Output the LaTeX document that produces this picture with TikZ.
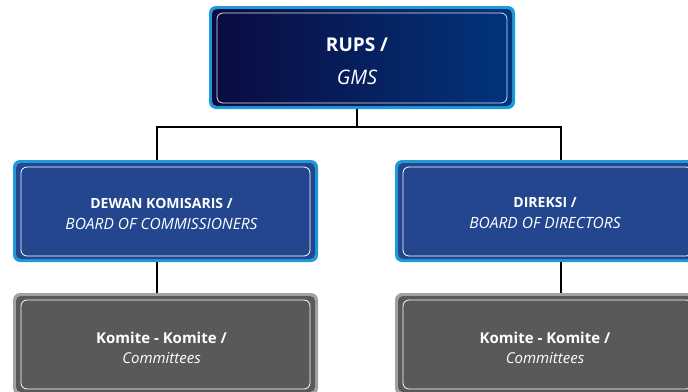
\documentclass[tikz,border=0pt]{standalone}
\usepackage{fontspec}
\setmainfont{Open Sans}
\usepackage{xcolor}
\usetikzlibrary{calc}

\definecolor{ringblue}{HTML}{1D9BD9}
\definecolor{navyL}{HTML}{0B0A40}
\definecolor{navyR}{HTML}{02357C}
\definecolor{midblue}{HTML}{24468F}
\definecolor{ringgrey}{HTML}{A2A2A2}
\definecolor{darkgrey}{HTML}{59595B}

\begin{document}
\begin{tikzpicture}[x=1pt, y=-1pt,
    orgbox/.style={minimum width=305pt, minimum height=102pt, inner sep=0pt, outer sep=0pt,
      rounded corners=7pt},
    ring/.style={fill=#1},
    inner/.style={path picture={
      \fill[#1, rounded corners=5pt] ([shift={(3pt,-3pt)}]path picture bounding box.north west)
        rectangle ([shift={(-3pt,3pt)}]path picture bounding box.south east);
      \draw[white, line width=0.8pt, rounded corners=6pt]
        ([shift={(8pt,-7pt)}]path picture bounding box.north west)
        rectangle ([shift={(-8pt,6pt)}]path picture bounding box.south east);}},
    boxtext/.style={text=white, align=center, inner sep=0pt},
    conn/.style={line width=2.4pt, black}]

      \useasboundingbox (0,0) rectangle (688,391);

      % top
      \node[orgbox, ring=ringblue, minimum width=306pt, minimum height=103pt,
        path picture={
          \shade[left color=navyL, right color=navyR, rounded corners=5pt]
            ([shift={(3pt,-3pt)}]path picture bounding box.north west)
            rectangle ([shift={(-3pt,3pt)}]path picture bounding box.south east);
          \draw[white!85!navyR, line width=0.8pt, rounded corners=6pt]
            ([shift={(8pt,-7pt)}]path picture bounding box.north west)
            rectangle ([shift={(-8pt,6pt)}]path picture bounding box.south east);}]
        (rups) at (362,57.5) {};
      \node[boxtext, font=\fontsize{19}{33}\selectfont] (rupsTxt) at ($(rups)+(-5,4)$)
        {\bfseries RUPS /\\{\fontsize{20}{33}\selectfont\itshape GMS}};

      % second row
      \node[orgbox, ring=ringblue, inner=midblue] (dekom) at (165.5,211) {};
      \node[orgbox, ring=ringblue, inner=midblue] (direksi) at (547.5,211) {};
      \node[boxtext, font=\fontsize{14}{21}\selectfont] (dekomTxt) at ($(dekom)+(-4,2.5)$)
        {\bfseries DEWAN KOMISARIS /\\{\fontsize{15.5}{21}\selectfont\itshape BOARD OF COMMISSIONERS}};
      \node[boxtext, font=\fontsize{14}{21}\selectfont] (direksiTxt) at ($(direksi)+(-2.5,2.5)$)
        {\bfseries DIREKSI /\\{\fontsize{15.5}{21}\selectfont\itshape BOARD OF DIRECTORS}};

      % third row
      \node[orgbox, ring=ringgrey, inner=darkgrey] (komL) at (165.5,344) {};
      \node[orgbox, ring=ringgrey, inner=darkgrey] (komR) at (547.5,344) {};
      \node[boxtext, font=\fontsize{15}{20}\selectfont] (komLTxt) at ($(komL)+(-4,4)$)
        {\bfseries Komite - Komite /\\\itshape Committees};
      \node[boxtext, font=\fontsize{15}{20}\selectfont] (komRTxt) at ($(komR)+(-2.5,4)$)
        {\bfseries Komite - Komite /\\\itshape Committees};

      \draw[conn] ([xshift=-5pt]rups.south) -- ++(0,18) -| ([xshift=-8.5pt]dekom.north);
      \draw[conn] ([xshift=-5pt]rups.south) -- ++(0,18) -| ([xshift=13.5pt]direksi.north);
      \draw[conn] ([xshift=-8.5pt]dekom.south) -- ([xshift=-8.5pt]komL.north);
      \draw[conn] ([xshift=13.5pt]direksi.south) -- ([xshift=13.5pt]komR.north);

\end{tikzpicture}
\end{document}
